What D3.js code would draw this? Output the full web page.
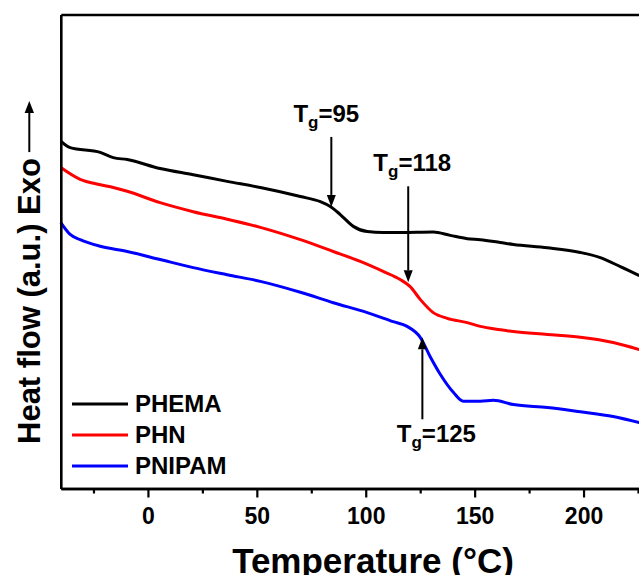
<!DOCTYPE html>
<html>
<head>
<meta charset="utf-8">
<script src="https://cdn.jsdelivr.net/npm/d3@7"></script>
<style>
body { margin: 0; background: #fff; }
text { font-family: Arial, "Liberation Sans", sans-serif; font-weight: bold; fill: #000; }
</style>
</head>
<body>
<svg id="chart" width="639" height="575"></svg>
<script>
// DSC traces, heat flow in arbitrary units
var tempPHEMA = [-40, -35.7, -21.9, -15.9, -9.5, 5.6, 20.8, 36.4, 51.6, 70, 79.2, 83.7, 88.3, 94.3, 100.7, 108, 115.8, 131, 138.8, 146.6, 152.6, 161.8, 167.8, 183.4, 198.5, 207.7, 216.9, 225.6];
var heatPHEMA = [73.3, 71.9, 70.9, 69.8, 69.4, 67.5, 66.2, 64.8, 63.5, 61.6, 60.5, 59.5, 57.8, 55.3, 54.2, 54.0, 54.0, 54.1, 53.4, 52.7, 52.5, 51.9, 51.5, 50.8, 49.8, 48.7, 46.8, 44.9];

var tempPHN = [-40, -31.1, -21.9, -15.9, -9.5, 5.6, 20.8, 36.4, 51.6, 70, 85.1, 97.5, 108, 115.8, 120.4, 125, 131, 137.4, 146.6, 152.6, 161.8, 167.8, 183.4, 198.5, 213.6, 225.6];
var heatPHN = [67.7, 65.2, 64.1, 63.5, 62.7, 60.3, 58.4, 56.8, 55.1, 52.5, 50.0, 47.9, 45.8, 44.1, 42.6, 39.9, 37.1, 35.9, 35.0, 34.2, 33.5, 33.1, 32.5, 31.9, 30.8, 29.3];

var tempPNIPAM = [-40, -35.7, -31.1, -21.9, -9.5, 5.6, 20.8, 36.4, 51.6, 70, 85.1, 100.7, 112.6, 119, 125, 129.6, 134.2, 140.2, 144.8, 152.6, 158.6, 167.8, 183.4, 198.5, 213.6, 225.6];
var heatPNIPAM = [56.1, 53.6, 52.5, 51.1, 50.0, 48.3, 46.6, 45.1, 43.7, 41.4, 39.2, 37.1, 35.2, 34.2, 31.9, 27.8, 24.1, 20.3, 18.4, 18.4, 18.6, 17.7, 17.1, 16.2, 15.2, 13.9];

var seriesNames = ["PHEMA", "PHN", "PNIPAM"];
var seriesColors = ["#000000", "#ff0000", "#0000ff"];

var majorTicks = [0, 50, 100, 150, 200];
var minorTicks = [-25, 25, 75, 125, 175, 225];

// glass transition marks
var tgLabels = ["95", "118", "125"];
var tgTemps = [84.2, 119.5, 126];
var tgHeat = [59.4, 43.5, 31.9];

var svg = d3.select("#chart");

var x = d3.scaleLinear().domain([-40, 230]).range([60.8, 648.9]);
var y = d3.scaleLinear().domain([0, 100]).range([488.5, 14.5]);

var series = [
	{ t: tempPHEMA, h: heatPHEMA },
	{ t: tempPHN, h: heatPHN },
	{ t: tempPNIPAM, h: heatPNIPAM }
];

var line = d3.line()
	.x(function(d) { return x(d[0]); })
	.y(function(d) { return y(d[1]); })
	.curve(d3.curveMonotoneX);

series.forEach(function(s, i) {
	svg.append("path")
		.datum(d3.zip(s.t, s.h))
		.attr("d", line)
		.attr("fill", "none")
		.attr("stroke", seriesColors[i])
		.attr("stroke-width", 3)
		.attr("stroke-linejoin", "round");
});

// axes
var bottom = svg.append("g")
	.attr("transform", "translate(0," + y(0) + ")")
	.call(d3.axisBottom(x).tickValues(majorTicks).tickSize(9).tickSizeOuter(0));
bottom.selectAll("text")
	.attr("y", 19)
	.style("font-size", "23px");

var bottomMinor = svg.append("g")
	.attr("transform", "translate(0," + y(0) + ")")
	.call(d3.axisBottom(x).tickValues(minorTicks).tickSize(5).tickSizeOuter(0).tickFormat(""));

var top = svg.append("g")
	.attr("transform", "translate(0," + y(100) + ")")
	.call(d3.axisTop(x).tickValues([]).tickSizeOuter(0));

var left = svg.append("g")
	.attr("transform", "translate(" + x(-40) + ",0)")
	.call(d3.axisLeft(y).tickValues([]).tickSizeOuter(0));

svg.selectAll(".domain").attr("stroke", "#000").attr("stroke-width", 2.6);
svg.selectAll(".tick line").attr("stroke", "#000").attr("stroke-width", 2.2);

// axis titles (the source figure is cropped through this line)
svg.append("text")
	.attr("x", 373)
	.attr("y", 573)
	.attr("text-anchor", "middle")
	.style("font-size", "35px")
	.text("Temperature (\u00b0C)");

var yTitle = svg.append("text")
	.attr("transform", "translate(39.5,444) rotate(-90)")
	.style("font-size", "31px")
	.text("Heat flow (a.u.) Exo");
var titleEnd = 444 - yTitle.node().getComputedTextLength();

svg.append("line")
	.attr("x1", 29.3).attr("x2", 29.3)
	.attr("y1", titleEnd - 6).attr("y2", titleEnd - 46)
	.attr("stroke", "#000").attr("stroke-width", 2);
svg.append("path")
	.attr("d", "M29.3," + (titleEnd - 57) + "L34," + (titleEnd - 45) + "L24.6," + (titleEnd - 45) + "Z")
	.attr("fill", "#000");

// legend
seriesNames.forEach(function(name, i) {
	var ly = 404 + i * 31;
	svg.append("line")
		.attr("x1", 72).attr("x2", 128)
		.attr("y1", ly).attr("y2", ly)
		.attr("stroke", seriesColors[i])
		.attr("stroke-width", 3);
	svg.append("text")
		.attr("x", 135)
		.attr("y", ly + 8)
		.style("font-size", "24px")
		.text(name);
});

// Tg arrows and labels
var arrowLen = [70, 96, 82];
var arrowDir = [1, 1, -1];   // 1 = pointing down onto curve
var labelShift = [-5, 4, 14];

tgLabels.forEach(function(lbl, i) {
	var ax = x(tgTemps[i]);
	var tip = y(tgHeat[i]);
	var tail = tip - arrowDir[i] * arrowLen[i];
	var headBase = tip - arrowDir[i] * 12;
	svg.append("line")
		.attr("x1", ax).attr("x2", ax)
		.attr("y1", tail).attr("y2", headBase)
		.attr("stroke", "#000").attr("stroke-width", 2);
	svg.append("path")
		.attr("d", "M" + ax + "," + tip + "L" + (ax + 4.5) + "," + headBase + "L" + (ax - 4.5) + "," + headBase + "Z")
		.attr("fill", "#000");

	var ty = arrowDir[i] > 0 ? tail - 15 : tail + 23;
	var t = svg.append("text")
		.attr("x", ax + labelShift[i])
		.attr("y", ty)
		.attr("text-anchor", "middle")
		.style("font-size", "24px");
	t.append("tspan").text("T");
	t.append("tspan").attr("dy", 6).style("font-size", "17px").text("g");
	t.append("tspan").attr("dy", -6).text("=" + lbl);
});
</script>
</body>
</html>
